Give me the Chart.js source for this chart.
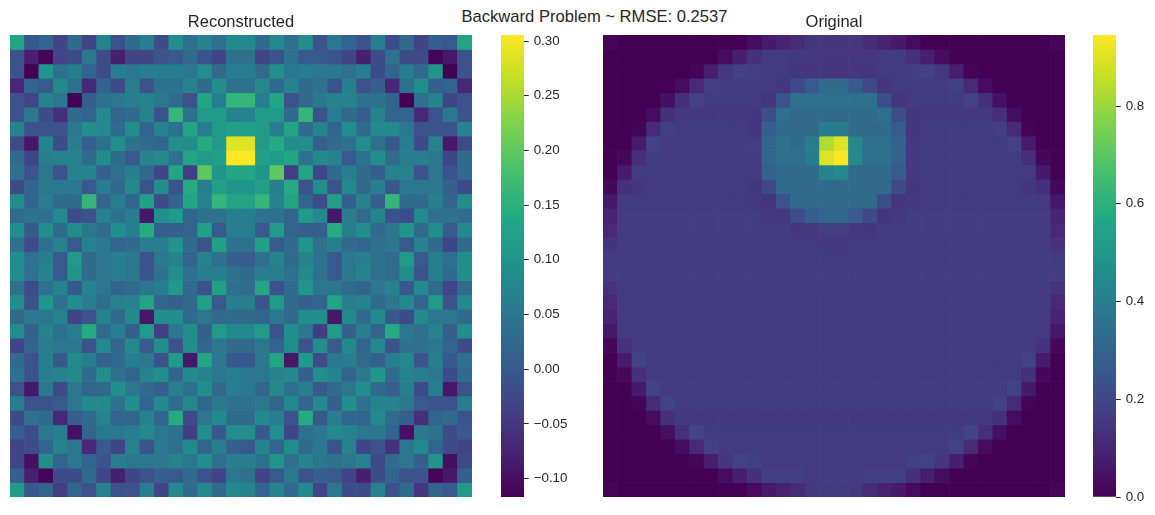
<!DOCTYPE html>
<html>
<head>
<meta charset="utf-8">
<script src="https://cdn.jsdelivr.net/npm/chart.js@4"></script>
<style>
body { margin: 0; background: #fff; width: 1155px; height: 515px; overflow: hidden; position: relative; }
canvas { position: absolute; }
#suptitle { position: absolute; left: 0; width: 1189px; top: 7px; text-align: center; font: 16.6px "Liberation Sans", Arial, sans-serif; color: #262626; }
</style>
</head>
<body>
<div id="suptitle">Backward Problem ~ RMSE: 0.2537</div>
<canvas id="heatLeft" width="462" height="497" style="left:10px;top:0"></canvas>
<canvas id="barLeft" width="73" height="515" style="left:501px;top:0"></canvas>
<canvas id="heatRight" width="462" height="497" style="left:603px;top:0"></canvas>
<canvas id="barRight" width="62" height="515" style="left:1093px;top:0"></canvas>
<script>
const leftTitle = 'Reconstructed';
const rightTitle = 'Original';
const leftTicks = [-0.10, -0.05, 0.00, 0.05, 0.10, 0.15, 0.20, 0.25, 0.30];
const rightTicks = [0.0, 0.2, 0.4, 0.6, 0.8];
const leftRange = [-0.1168, 0.3055];
const rightRange = [0, 0.9453];

const reconstructed = [
[.13,0,.02,-.03,.03,-.03,.07,-.01,.03,.06,-.02,.09,.04,.07,.04,.08,.08,.03,.08,.04,.09,-.01,.05,.02,-.01,.06,-.02,.03,-.03,.01,0,.13],
[-.01,-.08,-.112,-.03,-.02,.05,-.02,-.08,-.03,-.03,-.01,0,.03,-.01,-.03,.04,.04,-.03,-.01,.04,0,0,-.01,-.03,-.08,-.02,.04,-.02,-.02,-.112,-.09,-.01],
[-.01,-.117,.10,.04,.06,.02,-.02,.06,.05,.06,.06,.06,.05,.09,.03,.06,.06,.03,.09,.05,.06,.05,.05,.04,.06,-.02,.02,.06,.03,.10,-.117,-.01],
[-.07,.02,0,.08,.04,-.07,.02,-.02,.06,-.01,.04,.04,.07,.03,.09,.04,.04,.08,.03,.07,.03,.04,-.01,.06,-.01,.01,-.07,.04,.09,.01,.02,-.07],
[-.01,-.03,.07,.05,-.117,.01,.04,.05,.06,.07,.05,.03,-.01,.13,.06,.16,.16,.06,.13,-.01,.03,.05,.07,.07,.04,.04,.02,-.117,.04,.07,-.03,-.01],
[-.01,.05,-.02,-.06,.03,.02,.08,.02,.03,.07,-.01,.16,.04,.11,.11,.07,.07,.11,.11,.03,.16,-.01,.06,.03,.01,.07,.02,.02,-.07,-.01,.05,-.01],
[.07,-.01,-.01,-.01,.05,.09,.08,.03,.09,.02,.07,.04,.13,.06,.11,.12,.12,.11,.06,.13,.03,.07,.02,.09,.03,.08,.08,.05,-.01,-.01,-.01,.07],
[-.02,-.09,.07,-.02,.06,.01,.04,.09,.04,.03,.02,.09,.09,.14,.11,.285,.285,.11,.14,.09,.09,.01,.03,.04,.09,.04,0,.06,-.02,.07,-.09,-.02],
[.03,-.03,.06,.07,.07,.03,.09,.03,0,.07,.08,.04,.13,.11,.12,.305,.305,.12,.11,.13,.04,.08,.07,0,.04,.09,.03,.06,.06,.05,-.03,.03],
[.04,-.01,.05,-.01,.07,.07,.01,.04,.06,.03,-.03,.13,-.04,.20,.10,.13,.13,.10,.20,-.04,.13,-.03,.03,.06,.03,.01,.07,.07,-.01,.05,-.01,.03],
[-.02,.02,.05,.05,.05,0,.06,.03,.08,-.01,.09,-.01,.14,.06,.12,.10,.10,.12,.06,.14,-.01,.09,-.01,.08,.03,.06,0,.05,.05,.05,.01,-.02],
[.09,.02,.06,.03,.03,.16,.02,.06,.02,.12,-.02,.02,.13,.07,.16,.13,.13,.16,.07,.13,.02,-.02,.12,.01,.07,.01,.16,.03,.03,.06,.02,.09],
[.03,.04,.04,.08,-.02,-.01,.07,.04,.06,-.09,.09,.11,.02,.04,.04,.06,.06,.04,.04,.02,.11,.08,-.09,.06,.03,.07,-.01,-.02,.08,.04,.04,.03],
[.09,0,.09,.03,.09,.05,.03,.09,.06,.14,.01,.01,.02,.12,0,.06,.06,0,.11,.02,.01,.01,.14,.06,.09,.03,.05,.10,.03,.09,0,.08],
[.04,-.02,.04,.07,0,.07,.05,.02,.03,.06,.06,.10,.03,-.01,.12,.04,.04,.12,0,.03,.10,.04,.06,.03,.02,.04,.05,0,.07,.03,-.03,.03],
[.09,.04,.06,0,.11,.03,.05,.06,.05,-.01,.05,.07,.02,.07,.04,.01,.01,.04,.07,.03,.07,.04,0,.05,.06,.04,.03,.11,0,.06,.04,.09],
[.09,.04,.07,0,.10,.03,.05,.06,.05,-.01,.04,.09,.04,.06,.06,.04,.03,.06,.06,.04,.08,.04,0,.05,.07,.04,.03,.09,-.01,.06,.03,.09],
[.04,-.02,.04,.07,0,.07,.05,.02,.03,.05,.06,.11,.03,-.01,.12,.04,.03,.13,-.01,.03,.10,.05,.05,.03,.02,.05,.07,0,.08,.03,-.03,.03],
[.09,-.01,.10,.04,.09,.06,.03,.07,.07,.13,.02,.01,.03,.12,0,.06,.06,-.01,.11,.03,.01,.02,.13,.06,.07,.03,.05,.08,.02,.11,-.01,.08],
[.03,.05,.05,.07,-.03,-.01,.07,.03,.08,-.09,.09,.09,.03,.05,.03,.03,.03,.02,.05,.03,.09,.09,-.09,.08,.03,.08,0,-.02,.08,.05,.05,.03],
[.09,.01,.07,.04,.06,.14,.03,.06,.01,.11,-.04,.05,.09,.01,.11,.08,.08,.11,-.01,.09,.05,-.04,.11,.01,.06,.02,.14,.05,.04,.07,.01,.09],
[-.03,.02,.06,.05,.05,-.01,.08,.02,.08,0,.09,-.01,.09,.02,.05,.03,.03,.05,.02,.09,-.01,.09,0,.08,.02,.08,-.01,.04,.04,.05,.02,-.02],
[.03,-.01,.06,0,.08,.06,.01,.03,.06,.05,-.01,.11,-.09,.13,.05,0,0,.05,.13,-.09,.11,-.02,.05,.06,.03,.01,.06,.08,-.01,.06,0,.04],
[.04,-.01,.06,.07,.08,.03,.09,.04,.02,.07,.09,.02,.08,.07,.05,.06,.05,.05,.07,.08,.01,.09,.07,.02,.05,.10,.03,.07,.06,.05,-.02,.03],
[-.01,-.09,.05,-.02,.05,.02,.03,.09,.05,.03,.01,.06,.04,.09,.03,.06,.05,.02,.08,.04,.06,0,.03,.05,.09,.03,.01,.06,-.02,.06,-.09,-.01],
[.06,-.01,-.01,0,.05,.08,.08,.04,.09,.02,.08,.03,.08,.02,.05,.04,.04,.05,.02,.08,.02,.08,.01,.09,.04,.07,.07,.05,0,-.01,-.01,.06],
[-.02,.04,.03,-.07,.01,.03,.07,.02,.02,.07,.02,.14,-.02,.05,.08,.03,.03,.08,.06,-.01,.14,0,.06,.02,.02,.08,.03,.01,-.06,.02,.03,-.01],
[.01,-.02,.05,.06,-.10,.02,.05,.05,.06,.08,.05,.04,-.04,.09,0,.09,.09,0,.09,-.03,.04,.05,.08,.07,.05,.05,.02,-.10,.05,.04,-.02,0],
[-.03,-.02,.02,.07,.05,-.07,0,-.03,.07,-.01,.05,.04,.08,.02,.06,.01,0,.07,.02,.09,.03,.05,-.01,.07,-.03,-.01,-.06,.05,.08,.02,-.02,-.03],
[-.03,-.10,.09,.02,.05,.02,-.01,.06,.05,.05,.05,.07,.05,.09,.04,.06,.06,.04,.10,.04,.07,.05,.04,.05,.07,-.02,.03,.05,.01,.10,-.10,-.02],
[.01,-.08,-.112,-.02,-.02,.03,-.03,-.08,-.03,-.01,.01,0,.03,-.01,-.03,.05,.04,-.03,0,.05,-.01,.01,0,-.03,-.08,-.02,.02,-.01,-.01,-.112,-.09,.01],
[.11,0,.02,-.04,.02,-.01,.07,-.01,-.01,.06,-.03,.08,.03,.08,.03,.08,.07,.02,.07,.03,.08,-.03,.05,-.02,-.02,.07,-.01,.03,-.05,.02,0,.11]
];

const original = [
[.01,0,0,0,0,0,0,0,0,0,.03,.07,.09,.12,.15,.15,.15,.15,.12,.09,.07,.03,0,0,0,0,0,0,0,0,0,.01],
[0,0,0,0,0,0,0,0,.03,.08,.13,.16,.16,.155,.155,.15,.15,.155,.155,.16,.16,.13,.08,.03,0,0,0,0,0,0,0,0],
[0,0,0,0,0,0,.01,.08,.15,.18,.17,.16,.16,.15,.15,.15,.15,.15,.15,.16,.16,.17,.18,.15,.08,.01,0,0,0,0,0,0],
[0,0,0,0,0,.03,.11,.17,.16,.16,.16,.16,.15,.21,.27,.33,.33,.27,.21,.145,.16,.16,.16,.16,.17,.11,.03,0,0,0,0,0],
[0,0,0,0,.04,.13,.18,.16,.16,.16,.16,.145,.24,.34,.34,.34,.34,.34,.34,.22,.15,.16,.16,.16,.16,.18,.13,.04,0,0,0,0],
[0,0,0,.03,.13,.155,.155,.155,.155,.155,.15,.22,.34,.33,.33,.33,.33,.33,.33,.34,.22,.15,.155,.155,.155,.155,.155,.13,.03,0,0,0],
[0,0,.01,.11,.17,.16,.16,.16,.16,.16,.145,.28,.33,.33,.33,.39,.39,.33,.33,.33,.27,.145,.16,.16,.16,.16,.16,.17,.11,.01,0,0],
[0,0,.07,.18,.16,.16,.16,.16,.16,.16,.165,.31,.35,.33,.39,.83,.90,.43,.34,.34,.30,.155,.16,.16,.16,.16,.16,.16,.18,.07,0,0],
[0,.02,.13,.16,.16,.16,.16,.16,.16,.16,.165,.31,.34,.34,.39,.90,.94,.44,.34,.34,.30,.155,.16,.16,.16,.16,.16,.16,.16,.13,.02,0],
[0,.07,.16,.16,.16,.16,.16,.16,.16,.16,.16,.29,.33,.33,.33,.42,.44,.33,.33,.33,.27,.155,.16,.16,.16,.16,.16,.16,.16,.16,.07,0],
[.02,.13,.15,.16,.16,.16,.16,.16,.16,.16,.15,.21,.33,.33,.33,.33,.33,.33,.33,.33,.21,.15,.16,.16,.16,.16,.16,.16,.16,.15,.13,.02],
[.06,.16,.16,.16,.16,.16,.16,.16,.16,.16,.155,.145,.24,.33,.33,.33,.33,.33,.33,.22,.15,.155,.16,.16,.16,.16,.16,.16,.16,.16,.16,.06],
[.09,.165,.165,.165,.165,.165,.165,.165,.165,.165,.165,.155,.15,.22,.28,.31,.31,.27,.21,.145,.155,.165,.165,.165,.165,.165,.165,.165,.165,.165,.165,.09],
[.11,.165,.165,.165,.165,.165,.165,.165,.165,.165,.165,.165,.165,.15,.155,.17,.17,.155,.15,.165,.165,.165,.165,.165,.165,.165,.165,.165,.165,.165,.165,.11],
[.14,.16,.16,.16,.16,.16,.16,.16,.16,.16,.16,.16,.16,.16,.16,.155,.155,.16,.16,.16,.16,.16,.16,.16,.16,.16,.16,.16,.16,.16,.16,.14],
[.16,.16,.16,.16,.16,.16,.16,.16,.16,.16,.16,.16,.16,.16,.16,.16,.16,.16,.16,.16,.16,.16,.16,.16,.16,.16,.16,.16,.16,.16,.16,.16],
[.165,.165,.165,.165,.165,.165,.165,.165,.165,.165,.165,.165,.165,.165,.165,.165,.165,.165,.165,.165,.165,.165,.165,.165,.165,.165,.165,.165,.165,.165,.165,.165],
[.14,.16,.16,.16,.16,.16,.16,.16,.16,.16,.16,.16,.16,.16,.16,.16,.16,.16,.16,.16,.16,.16,.16,.16,.16,.16,.16,.16,.16,.16,.16,.14],
[.11,.16,.16,.16,.16,.16,.16,.16,.16,.16,.16,.16,.16,.16,.16,.16,.16,.16,.16,.16,.16,.16,.16,.16,.16,.16,.16,.16,.16,.16,.16,.11],
[.09,.16,.16,.16,.16,.16,.16,.16,.16,.16,.16,.16,.16,.16,.16,.16,.16,.16,.16,.16,.16,.16,.16,.16,.16,.16,.16,.16,.16,.16,.16,.09],
[.06,.16,.16,.16,.16,.16,.16,.16,.16,.16,.16,.16,.16,.16,.16,.16,.16,.16,.16,.16,.16,.16,.16,.16,.16,.16,.16,.16,.16,.16,.16,.06],
[.02,.14,.16,.16,.16,.16,.16,.16,.16,.16,.16,.16,.16,.16,.16,.16,.16,.16,.16,.16,.16,.16,.16,.16,.16,.16,.16,.16,.16,.16,.14,.02],
[0,.07,.18,.16,.16,.16,.16,.16,.16,.16,.16,.16,.16,.16,.16,.16,.16,.16,.16,.16,.16,.16,.16,.16,.16,.16,.16,.16,.16,.18,.07,0],
[0,.02,.13,.16,.16,.16,.16,.16,.16,.16,.16,.16,.16,.16,.16,.16,.16,.16,.16,.16,.16,.16,.16,.16,.16,.16,.16,.16,.16,.13,.02,0],
[0,0,.07,.18,.16,.16,.16,.16,.16,.16,.16,.16,.16,.16,.16,.16,.16,.16,.16,.16,.16,.16,.16,.16,.16,.16,.16,.16,.18,.07,0,0],
[0,0,.01,.11,.18,.16,.16,.16,.16,.16,.16,.16,.16,.16,.16,.16,.16,.16,.16,.16,.16,.16,.16,.16,.16,.16,.16,.18,.11,.01,0,0],
[0,0,0,.03,.13,.155,.155,.155,.155,.155,.155,.155,.155,.155,.155,.155,.155,.155,.155,.155,.155,.155,.155,.155,.155,.155,.155,.13,.03,0,0,0],
[0,0,0,0,.04,.13,.19,.16,.16,.16,.16,.16,.16,.16,.16,.16,.16,.16,.16,.16,.16,.16,.16,.16,.16,.19,.13,.04,0,0,0,0],
[0,0,0,0,0,.03,.11,.18,.16,.16,.16,.16,.16,.16,.16,.16,.16,.16,.16,.16,.16,.16,.16,.16,.18,.11,.03,0,0,0,0,0],
[0,0,0,0,0,0,.01,.08,.15,.18,.17,.16,.16,.16,.16,.16,.16,.16,.16,.16,.16,.17,.18,.15,.08,.01,0,0,0,0,0,0],
[0,0,0,0,0,0,0,0,.03,.08,.13,.17,.17,.17,.16,.16,.16,.16,.17,.17,.17,.13,.08,.03,0,0,0,0,0,0,0,0],
[.01,0,0,0,0,0,0,0,0,0,.03,.07,.09,.12,.155,.16,.16,.155,.12,.09,.07,.03,0,0,0,0,0,0,0,0,0,.01]
];

const viridisStops = [
    [68, 1, 84], [72, 36, 117], [65, 68, 135], [53, 95, 141], [42, 120, 142], [33, 145, 140],
    [34, 168, 132], [68, 191, 112], [122, 209, 81], [189, 223, 38], [253, 231, 37]
];
const textColor = '#262626';
const fontFamily = '"Liberation Sans", Arial, sans-serif';

function viridis(t) {
    t = Math.min(1, Math.max(0, t));
    const p = t * (viridisStops.length - 1);
    const i = Math.min(Math.floor(p), viridisStops.length - 2);
    const f = p - i;
    const c = viridisStops[i].map((a, k) => Math.round(a + (viridisStops[i + 1][k] - a) * f));
    return 'rgb(' + c.join(',') + ')';
}

function heatmap(id, title, rows, range) {
    const labels = rows[0].map((v, i) => String(i));
    const datasets = rows.map((row, r) => ({
        grouped: false,
        barPercentage: 1,
        categoryPercentage: 1,
        data: row.map((v, c) => ({ x: String(c), y: [r, r + 1], v: v })),
        backgroundColor: ctx => viridis((ctx.raw.v - range[0]) / (range[1] - range[0]))
    }));
    new Chart(id, {
        type: 'bar',
        data: { labels: labels, datasets: datasets },
        options: {
            responsive: false,
            animation: false,
            plugins: {
                legend: { display: false },
                tooltip: { enabled: false },
                title: {
                    display: true,
                    text: title,
                    color: textColor,
                    font: { family: fontFamily, size: 16.5, weight: 'normal' },
                    padding: { top: 13, bottom: 2.2 }
                }
            },
            scales: {
                x: { display: false },
                y: { display: false, min: 0, max: rows.length, reverse: true }
            }
        }
    });
}

function colorbar(id, range, ticks, digits, axisWidth) {
    new Chart(id, {
        type: 'bar',
        data: {
            labels: ['colorbar'],
            datasets: [{
                barPercentage: 1,
                categoryPercentage: 1,
                data: [range],
                backgroundColor: ctx => {
                    const area = ctx.chart.chartArea;
                    if (!area) return viridisStops[0];
                    const g = ctx.chart.ctx.createLinearGradient(0, area.bottom, 0, area.top);
                    for (let i = 0; i <= 50; i++) g.addColorStop(i / 50, viridis(i / 50));
                    return g;
                }
            }]
        },
        options: {
            responsive: false,
            animation: false,
            layout: { padding: { top: 35, bottom: 18 } },
            plugins: { legend: { display: false }, tooltip: { enabled: false } },
            scales: {
                x: { display: false },
                y: {
                    position: 'right',
                    min: range[0],
                    max: range[1],
                    afterFit: s => { s.width = axisWidth; },
                    afterBuildTicks: s => { s.ticks = ticks.map(v => ({ value: v })); },
                    border: { display: false },
                    grid: { drawOnChartArea: false, drawTicks: true, tickLength: 4.7, color: textColor, tickWidth: 1 },
                    ticks: {
                        color: textColor,
                        padding: 5,
                        autoSkip: false,
                        font: { family: fontFamily, size: 13.33 },
                        callback: v => v.toFixed(digits).replace('-', '\u2212')
                    }
                }
            }
        }
    });
}

heatmap('heatLeft', leftTitle, reconstructed, leftRange);
colorbar('barLeft', leftRange, leftTicks, 2, 50);
heatmap('heatRight', rightTitle, original, rightRange);
colorbar('barRight', rightRange, rightTicks, 1, 39);
</script>
</body>
</html>
